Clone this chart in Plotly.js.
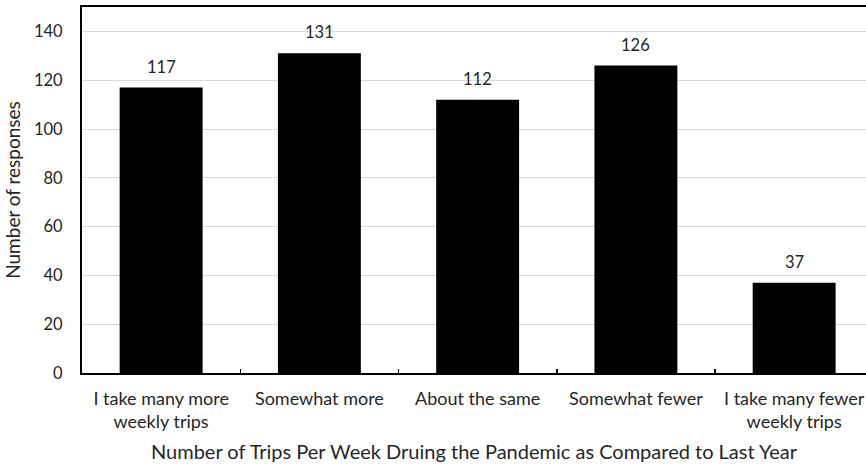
<!DOCTYPE html>
<html>
<head>
<meta charset="utf-8">
<script src="https://cdn.plot.ly/plotly-3.0.1.min.js"></script>
<style>html,body{margin:0;padding:0;background:#fff;}#chart{width:866px;height:467px;}</style>
</head>
<body>
<div id="chart"></div>
<script>
const categories = ["I take many more<br>weekly trips", "Somewhat more", "About the same", "Somewhat fewer", "I take many fewer<br>weekly trips"];
const responses = [117, 131, 112, 126, 37];
const yTicks = [0, 20, 40, 60, 80, 100, 120, 140];
const xTitle = "Number of Trips Per Week Druing the Pandemic as Compared to Last Year";
const yTitle = "Number of responses";

const FONT = "Lato, 'Open Sans', sans-serif";
const TXT = "#262626";

const trace = {
  type: "bar",
  x: categories,
  y: responses,
  marker: {color: "#000000", line: {width: 0}},
  hoverinfo: "none"
};

const annotations = responses.map((v, i) => ({
  x: categories[i], y: v, xref: "x", yref: "y",
  text: String(v), showarrow: false,
  yanchor: "bottom", yshift: 9,
  font: {family: FONT, size: 16.5, color: TXT}
}));

const layout = {
  width: 866, height: 467,
  margin: {l: 82, r: 0, t: 7, b: 94, pad: 0},
  paper_bgcolor: "#ffffff", plot_bgcolor: "#ffffff",
  bargap: 0.476,
  showlegend: false,
  font: {family: FONT, size: 16, color: TXT},
  xaxis: {
    type: "category",
    range: [-0.5, 4.454],
    showline: true, linecolor: "#000", linewidth: 2, mirror: true,
    ticks: "inside", tickson: "boundaries", ticklen: 4, tickcolor: "#000", tickwidth: 1.5,
    showgrid: false, zeroline: false,
    ticklabelstandoff: 8,
    tickfont: {family: FONT, size: 18, color: TXT},
    title: {text: xTitle, font: {family: FONT, size: 20, color: TXT}, standoff: 14}
  },
  yaxis: {
    range: [0, 150],
    tickvals: yTicks,
    showline: true, linecolor: "#000", linewidth: 2,
    ticks: "", ticklabelstandoff: 14,
    showgrid: true, gridcolor: "#d9d9d9", gridwidth: 1,
    zeroline: false,
    tickfont: {family: FONT, size: 16.5, color: TXT},
    title: {text: yTitle, font: {family: FONT, size: 19, color: TXT}, standoff: 8}
  },
  annotations: annotations
};

Plotly.newPlot("chart", [trace], layout, {displayModeBar: false, staticPlot: true});
</script>
</body>
</html>
